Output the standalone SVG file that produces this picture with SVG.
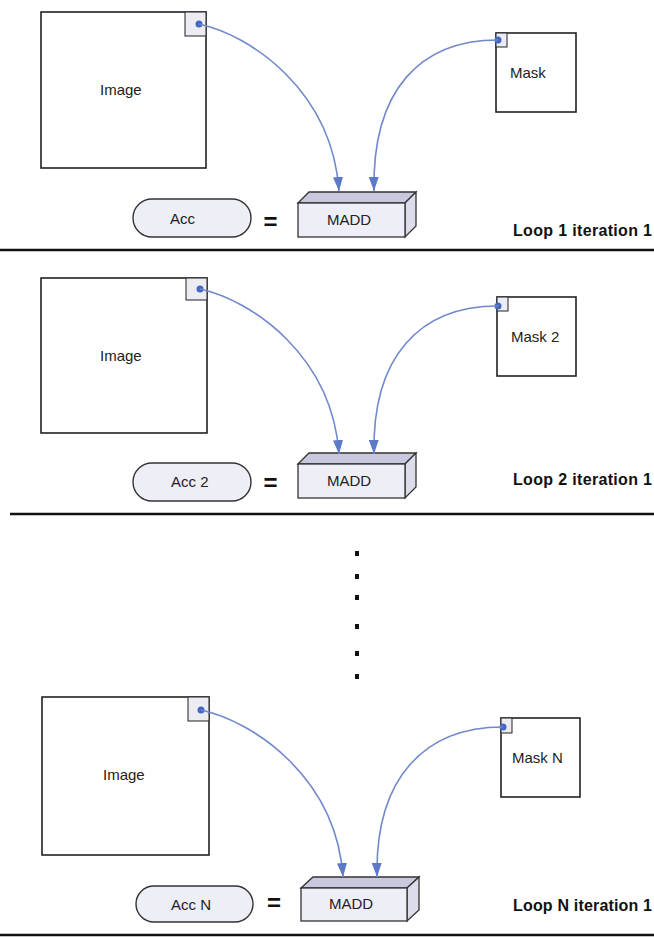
<svg xmlns="http://www.w3.org/2000/svg" width="654" height="938" viewBox="0 0 654 938">
<style>
.bg{fill:#ffffff}
.box{fill:#ffffff;stroke:#222;stroke-width:1.6}
.corner{fill:#ececf2;stroke:#333;stroke-width:1.1}
.dot{fill:#4467c4}
.pill{fill:#eeeef7;stroke:#333;stroke-width:1.4}
.front{fill:#eeeef6;stroke:#333;stroke-width:1.3}
.topf{fill:#c8c8de;stroke:#333;stroke-width:1.3}
.side{fill:#dcdcea;stroke:#333;stroke-width:1.3}
.lbl{font-family:"Liberation Sans",Arial,sans-serif;font-size:15px;fill:#222}
.eq{font-family:"Liberation Sans",Arial,sans-serif;font-size:24px;font-weight:bold;fill:#111}
.loop{font-family:"Liberation Sans",Arial,sans-serif;font-size:16px;font-weight:bold;fill:#111}
.conn{fill:none;stroke:#7189cc;stroke-width:1.6}
.sep{stroke:#111;stroke-width:2.5}
.vd{fill:#111}
</style>
<defs>
<marker id="ah" viewBox="0 0 14 10" refX="14" refY="5" markerWidth="14" markerHeight="10" markerUnits="userSpaceOnUse" orient="auto">
<path d="M0,0 L14,5 L0,10 z" fill="#5b7bc8"/>
</marker>
</defs>
<rect class="bg" x="0" y="0" width="654" height="938"/>

<!-- Section 1 -->
<g id="image1">
<rect class="box" x="41" y="12" width="165" height="156"/>
<rect class="corner" x="185" y="12" width="21" height="24"/>
<circle class="dot" cx="199" cy="24" r="3.5"/>
<text class="lbl" x="100" y="95">Image</text>
</g>
<g id="mask1">
<rect class="box" x="496" y="33" width="80" height="79"/>
<rect class="corner" x="496" y="33" width="11" height="14"/>
<circle class="dot" cx="498" cy="40" r="3.5"/>
<text class="lbl" x="510" y="78">Mask</text>
</g>
<g id="madd1">
<polygon class="topf" points="298,203 309,192 416,192 405,203"/>
<polygon class="side" points="405,203 416,192 416,226 405,237"/>
<rect class="front" x="298" y="203" width="107" height="34"/>
<text class="lbl" x="327" y="225">MADD</text>
</g>
<g id="acc1">
<rect class="pill" x="133" y="199" width="118" height="38" rx="19" ry="19"/>
<text class="lbl" x="170" y="223.5">Acc</text>
</g>
<g id="eq1"><text class="eq" x="270.5" y="230" text-anchor="middle">=</text></g>
<g id="loop1"><text class="loop" x="513" y="236" textLength="139" lengthAdjust="spacing">Loop 1 iteration 1</text></g>

<!-- Section 2 -->
<g id="image2">
<rect class="box" x="41" y="278" width="166" height="155"/>
<rect class="corner" x="186" y="278" width="21" height="22"/>
<circle class="dot" cx="200" cy="289" r="3.5"/>
<text class="lbl" x="100" y="361">Image</text>
</g>
<g id="mask2">
<rect class="box" x="497" y="297" width="79" height="79"/>
<rect class="corner" x="497" y="297" width="11" height="14"/>
<circle class="dot" cx="498" cy="306" r="3.5"/>
<text class="lbl" x="511" y="342">Mask 2</text>
</g>
<g id="madd2">
<polygon class="topf" points="298,464 309,453 416,453 405,464"/>
<polygon class="side" points="405,464 416,453 416,487 405,498"/>
<rect class="front" x="298" y="464" width="107" height="34"/>
<text class="lbl" x="327" y="486">MADD</text>
</g>
<g id="acc2">
<rect class="pill" x="133" y="463" width="118" height="38" rx="19" ry="19"/>
<text class="lbl" x="171" y="487">Acc 2</text>
</g>
<g id="eq2"><text class="eq" x="270.5" y="491" text-anchor="middle">=</text></g>
<g id="loop2"><text class="loop" x="513" y="485" textLength="139" lengthAdjust="spacing">Loop 2 iteration 1</text></g>

<!-- vertical ellipsis -->
<g id="ellipsis">
<rect class="vd" x="355" y="551" width="4" height="5"/>
<rect class="vd" x="355" y="574" width="4" height="5"/>
<rect class="vd" x="355" y="595" width="4" height="5"/>
<rect class="vd" x="355" y="624" width="4" height="5"/>
<rect class="vd" x="355" y="651" width="4" height="5"/>
<rect class="vd" x="355" y="674" width="4" height="5"/>
</g>

<!-- Section N -->
<g id="imageN">
<rect class="box" x="42" y="697" width="167" height="158"/>
<rect class="corner" x="188" y="697" width="21" height="24"/>
<circle class="dot" cx="201" cy="710" r="3.5"/>
<text class="lbl" x="103" y="780">Image</text>
</g>
<g id="maskN">
<rect class="box" x="501" y="718" width="79" height="79"/>
<rect class="corner" x="501" y="718" width="11" height="15"/>
<circle class="dot" cx="503" cy="727" r="3.5"/>
<text class="lbl" x="512" y="763">Mask N</text>
</g>
<g id="maddN">
<polygon class="topf" points="301,888 313,877 419,877 407,888"/>
<polygon class="side" points="407,888 419,877 419,910 407,921"/>
<rect class="front" x="301" y="888" width="106" height="33"/>
<text class="lbl" x="329" y="909">MADD</text>
</g>
<g id="accN">
<rect class="pill" x="136" y="886" width="117" height="36" rx="18" ry="18"/>
<text class="lbl" x="171" y="909.5">Acc N</text>
</g>
<g id="eqN"><text class="eq" x="274" y="911" text-anchor="middle">=</text></g>
<g id="loopN"><text class="loop" x="513" y="911" textLength="139" lengthAdjust="spacing">Loop N iteration 1</text></g>

<!-- connectors -->
<g id="connectors">
<path class="conn" d="M199,24 C250,35 332,90 339,191" marker-end="url(#ah)"/>
<path class="conn" d="M498,40 C420,40 372,90 374,191" marker-end="url(#ah)"/>
<path class="conn" d="M200,289 C251,300 332,355 339,454" marker-end="url(#ah)"/>
<path class="conn" d="M498,306 C420,306 372,356 374,454" marker-end="url(#ah)"/>
<path class="conn" d="M201,710 C252,721 336,776 343,877" marker-end="url(#ah)"/>
<path class="conn" d="M503,727 C425,727 375,777 377,877" marker-end="url(#ah)"/>
</g>

<!-- separators -->
<g id="separators">
<line class="sep" x1="0" y1="250" x2="654" y2="250"/>
<line class="sep" x1="10" y1="514" x2="654" y2="514"/>
<line class="sep" x1="0" y1="935" x2="654" y2="935"/>
</g>
</svg>
